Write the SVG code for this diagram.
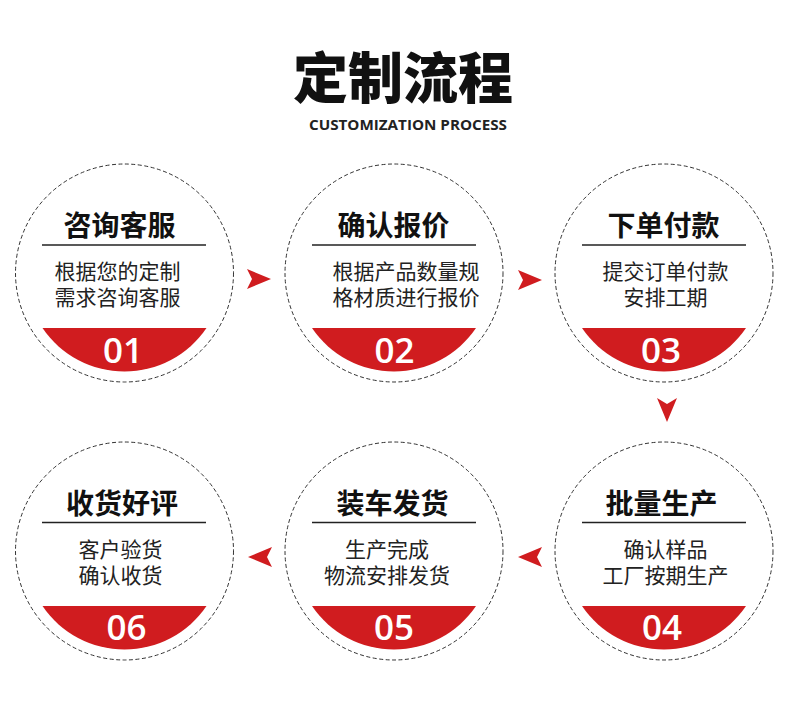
<svg xmlns="http://www.w3.org/2000/svg" width="790" height="710" viewBox="0 0 790 710">
<style>
.ring{fill:#fff;stroke:#333;stroke-width:1;stroke-dasharray:4 2.5}
.band{fill:#d01c1f}
.rule{stroke:#222;stroke-width:1.5}
.head{font-family:"Noto Sans CJK SC","Noto Sans",sans-serif;font-weight:700;font-size:28px;fill:#111;text-anchor:middle}
.body{font-family:"Noto Sans CJK SC","Noto Sans",sans-serif;font-weight:400;font-size:21px;fill:#222;text-anchor:middle}
.num{font-family:"Open Sans","Liberation Sans",sans-serif;font-weight:600;font-size:35px;fill:#fff;text-anchor:middle}
.arrow{fill:#d01c1f}
</style>
<rect width="790" height="710" fill="#fff"/>
<g id="title">
<text x="403" y="98" font-family="'Noto Sans CJK SC',sans-serif" font-weight="900" font-size="55" fill="#111" text-anchor="middle">定制流程</text>
<text x="408" y="130" font-family="'Open Sans','Liberation Sans',sans-serif" font-weight="700" font-size="13.5" fill="#222" text-anchor="middle" textLength="198" lengthAdjust="spacingAndGlyphs">CUSTOMIZATION PROCESS</text>
</g>
<g id="step1">
<circle class="ring" cx="124.5" cy="273" r="109"/>
<path class="band" d="M42.5 328 A99 99 0 0 0 206.5 328 Z"/>
<text class="head" x="119.5" y="236">咨询客服</text>
<line class="rule" x1="42" y1="245" x2="206" y2="245"/>
<text class="body" x="117.5" y="279">根据您的定制</text>
<text class="body" x="117.5" y="305">需求咨询客服</text>
<text class="num" x="123" y="363">01</text>
</g>
<g id="step2">
<circle class="ring" cx="394" cy="273" r="109"/>
<path class="band" d="M312 328 A99 99 0 0 0 476 328 Z"/>
<text class="head" x="393.5" y="236">确认报价</text>
<line class="rule" x1="312" y1="245" x2="476" y2="245"/>
<text class="body" x="406" y="279">根据产品数量规</text>
<text class="body" x="406" y="305">格材质进行报价</text>
<text class="num" x="394.5" y="363">02</text>
</g>
<g id="step3">
<circle class="ring" cx="664" cy="273" r="109"/>
<path class="band" d="M582 328 A99 99 0 0 0 746 328 Z"/>
<text class="head" x="663.5" y="236">下单付款</text>
<line class="rule" x1="582" y1="245" x2="746" y2="245"/>
<text class="body" x="665.5" y="279">提交订单付款</text>
<text class="body" x="665.5" y="305">安排工期</text>
<text class="num" x="661" y="363">03</text>
</g>
<g id="step4">
<circle class="ring" cx="664" cy="551" r="109"/>
<path class="band" d="M582 606 A99 99 0 0 0 746 606 Z"/>
<text class="head" x="661.5" y="514">批量生产</text>
<line class="rule" x1="582" y1="522.5" x2="746" y2="522.5"/>
<text class="body" x="665.5" y="557">确认样品</text>
<text class="body" x="665.5" y="583">工厂按期生产</text>
<text class="num" x="662" y="640">04</text>
</g>
<g id="step5">
<circle class="ring" cx="394" cy="551" r="109"/>
<path class="band" d="M312 606 A99 99 0 0 0 476 606 Z"/>
<text class="head" x="392.5" y="514">装车发货</text>
<line class="rule" x1="312" y1="522.5" x2="476" y2="522.5"/>
<text class="body" x="387" y="557">生产完成</text>
<text class="body" x="387" y="583">物流安排发货</text>
<text class="num" x="394" y="640">05</text>
</g>
<g id="step6">
<circle class="ring" cx="124.5" cy="551" r="109"/>
<path class="band" d="M42.5 606 A99 99 0 0 0 206.5 606 Z"/>
<text class="head" x="122" y="514">收货好评</text>
<line class="rule" x1="42" y1="522.5" x2="206" y2="522.5"/>
<text class="body" x="120.5" y="557">客户验货</text>
<text class="body" x="120.5" y="583">确认收货</text>
<text class="num" x="126.5" y="640">06</text>
</g>
<g id="connectors">
<polygon class="arrow" points="247,269 271,279 247,289 252,279"/>
<polygon class="arrow" points="518,270 542,280 518,290 523,280"/>
<polygon class="arrow" points="657,398 667,404 677,398 667,422"/>
<polygon class="arrow" points="542,547 518,557 542,567 537,557"/>
<polygon class="arrow" points="272,547 248,557 272,567 267,557"/>
</g>
</svg>
